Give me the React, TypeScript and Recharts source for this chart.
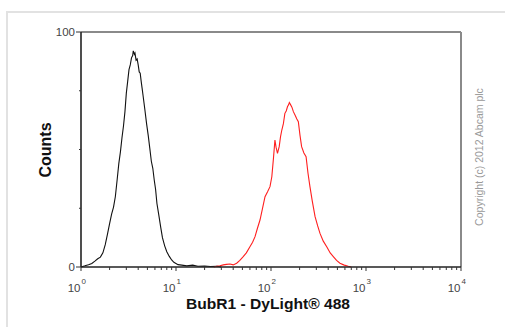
import React from "react";
import { LineChart, Line, XAxis, YAxis, ReferenceLine } from "recharts";

const blackX = [1.0, 1.1, 1.2, 1.3, 1.4, 1.5, 1.6, 1.7, 1.8, 1.9, 2.0, 2.1, 2.2, 2.3, 2.4, 2.5, 2.6, 2.7, 2.8, 2.9, 3.0, 3.1, 3.2, 3.3, 3.4, 3.5, 3.55, 3.65, 3.7, 3.8, 3.9, 4.0, 4.1, 4.2, 4.3, 4.4, 4.5, 4.7, 4.9, 5.1, 5.3, 5.5, 5.7, 5.9, 6.1, 6.3, 6.6, 6.9, 7.2, 7.6, 8.0, 8.5, 9.0, 9.5, 10.5, 11.5, 13, 15, 17, 20, 23, 27, 30];
const blackY = [0, 0.5, 1, 1.5, 2.5, 3.5, 4.2, 6, 9.5, 14, 18.5, 22.5, 25.5, 30, 37, 44, 49, 55, 60, 66, 74, 79, 84, 86, 89, 90, 92, 90.5, 91, 88, 88.5, 86, 83, 82.5, 79, 76, 73, 67, 61, 56, 50.5, 45, 42, 37, 33, 27, 22, 17, 12.5, 9, 6.5, 4.5, 3, 2, 1, 0.8, 0.5, 0.8, 0.3, 0.4, 0.2, 0.3, 0];

const redX = [25, 26.8, 29, 31.5, 34, 37, 40, 43.5, 47, 51, 55, 60, 64, 67.9, 72, 76.6, 81, 86.5, 92, 97.6, 102, 106, 110, 113, 117, 122, 126, 130, 135, 140, 145, 149, 153, 156, 160, 166, 172, 180, 187, 194, 202, 210, 222, 234, 245, 257, 272, 291, 310, 328, 355, 386, 420, 453, 490, 532, 590, 651, 700];
const redY = [0, 0.3, 0.5, 0.9, 1.1, 1.3, 0.9, 1.6, 2.8, 4.4, 6, 8.6, 10.5, 12.9, 16.5, 20, 24.5, 29.9, 32, 34.2, 38.4, 46, 54, 51, 48.4, 51.2, 55.5, 58.3, 61, 65.4, 66.5, 68.2, 69, 70, 69.2, 68, 66.1, 64.5, 63, 61.8, 56, 51.2, 48.5, 46.9, 40, 34.2, 28, 21.4, 17.5, 14.3, 11, 8.6, 6, 4.4, 2.8, 1.6, 0.8, 0.3, 0];

const xTicks = [1, 2, 3, 4, 5, 6, 7, 8, 9, 10, 20, 30, 40, 50, 60, 70, 80, 90, 100, 200, 300, 400, 500, 600, 700, 800, 900, 1000, 2000, 3000, 4000, 5000, 6000, 7000, 8000, 9000, 10000];
const yTicks = [0, 25, 50, 75, 100];
const yLabels: Record<number, string> = { 0: "0", 100: "100" };

const xTitle = "BubR1 - DyLight® 488";
const yTitle = "Counts";
const copyright = "Copyright (c) 2012 Abcam plc";

const blackData = blackX.map((x, i) => ({ x, y: blackY[i] }));
const redData = redX.map((x, i) => ({ x, y: redY[i] }));

const FONT = "'Liberation Sans', Arial, sans-serif";

const XTick = (props: any) => {
  const { x, y, payload } = props;
  const v = payload.value as number;
  const lg = Math.log10(v);
  const exp = Math.round(lg);
  const major = Math.abs(lg - exp) < 1e-6;
  return (
    <g>
      <line x1={x} x2={x} y1={y} y2={y + (major ? 4 : 3)} stroke="#333" strokeWidth={1} />
      {major && (
        <g fontFamily={FONT} fill="#444">
          <text x={x - 0.5} y={292} fontSize={11.5} textAnchor="end">10</text>
          <text x={x + 0.5} y={284} fontSize={8} textAnchor="start">{exp}</text>
        </g>
      )}
    </g>
  );
};

const YTick = (props: any) => {
  const { x, y, payload } = props;
  const v = payload.value as number;
  const label = yLabels[v];
  return (
    <g>
      <line x1={x - (label ? 5 : 2)} x2={x} y1={y} y2={y} stroke="#333" strokeWidth={1} />
      {label && (
        <text x={x - 6} y={y} dy="0.35em" fontSize={11.5} textAnchor="end" fontFamily={FONT} fill="#444">
          {label}
        </text>
      )}
    </g>
  );
};

export default function App() {
  return (
    <div style={{ position: "absolute", left: 0, top: 0, width: 505, height: 327, background: "#fff", overflow: "hidden" }}>
      <div
        style={{
          position: "absolute",
          left: 6,
          top: 11,
          width: 600,
          height: 400,
          borderLeft: "2px solid #e2e2e2",
          borderTop: "2px solid #e2e2e2",
        }}
      />
      <div style={{ position: "absolute", left: 0, top: 0 }}>
        <LineChart width={505} height={327} margin={{ top: 32, right: 44, bottom: 30, left: 41 }}>
          <XAxis
            dataKey="x"
            type="number"
            scale="log"
            domain={[1, 10000]}
            ticks={xTicks}
            allowDataOverflow
            height={30}
            tickSize={0}
            tickMargin={0}
            tickLine={false}
            interval={0}
            axisLine={{ stroke: "#222", strokeWidth: 1.6 }}
            tick={<XTick />}
          />
          <YAxis
            type="number"
            domain={[0, 100]}
            ticks={yTicks}
            width={40}
            tickSize={0}
            tickMargin={0}
            tickLine={false}
            interval={0}
            axisLine={{ stroke: "#222", strokeWidth: 1.6 }}
            tick={<YTick />}
          />
          <ReferenceLine y={100} stroke="#8a8a8a" strokeWidth={2} />
          <ReferenceLine x={10000} stroke="#8a8a8a" strokeWidth={2} />
          <Line data={blackData} dataKey="y" type="linear" stroke="#111" strokeWidth={1.1} dot={false} isAnimationActive={false} />
          <Line data={redData} dataKey="y" type="linear" stroke="#ff1f1f" strokeWidth={1.1} dot={false} isAnimationActive={false} />
          <text x={268} y={304} dy="0.35em" textAnchor="middle" fontFamily={FONT} fontWeight="bold" fontSize={14} fill="#111" textLength={164} lengthAdjust="spacingAndGlyphs">
            {xTitle}
          </text>
          <text x={45} y={150} dy="0.35em" textAnchor="middle" fontFamily={FONT} fontWeight="bold" fontSize={16} fill="#111" transform="rotate(-90 45 150)">
            {yTitle}
          </text>
          <text x={479} y={157} dy="0.35em" textAnchor="middle" fontFamily={FONT} fontSize={10.5} fill="#999" transform="rotate(-90 479 157)">
            {copyright}
          </text>
        </LineChart>
      </div>
    </div>
  );
}
